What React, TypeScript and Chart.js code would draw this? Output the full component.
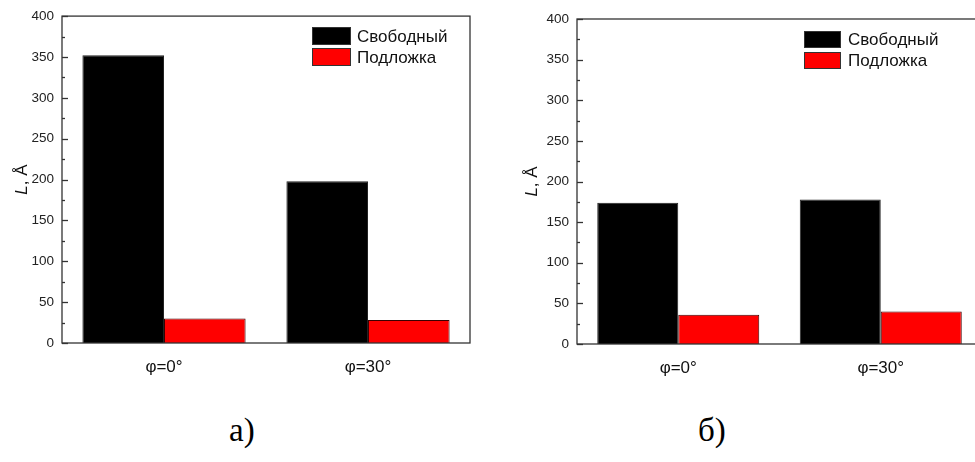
import React, { useEffect, useRef } from "react";
import { Chart, registerables } from "chart.js";

Chart.register(...registerables);

// Categories and series
const categories = ["φ=0°", "φ=30°"];
const seriesNames = ["Свободный", "Подложка"];
const seriesColors = ["#000000", "#ff0000"];

// Panel а)
const freeA = [352, 198];
const substrateA = [30, 28];

// Panel б)
const freeB = [174, 178];
const substrateB = [36, 40];

// Y axis
const yMin = 0;
const yMax = 400;
const yMajorStep = 50;
const yMinorStep = 25;

const SANS = "'Liberation Sans', Arial, sans-serif";

// Box around the plot area plus inward major/minor ticks on the value axis
const framePlugin = {
  id: "frame",
  afterDatasetsDraw(chart: any, _args: any, opts: any) {
    const { ctx, chartArea } = chart;
    const { left, right, top, bottom } = chartArea;
    ctx.save();
    ctx.strokeStyle = opts.color || "#333";
    ctx.lineWidth = opts.lineWidth || 1.3;
    ctx.strokeRect(left, top, right - left, bottom - top);
    const y = chart.scales.y;
    for (let v = yMin; v <= yMax; v += yMinorStep) {
      const py = Math.round(y.getPixelForValue(v)) + 0.5;
      const len = v % yMajorStep === 0 ? 6 : 3;
      ctx.beginPath();
      ctx.moveTo(left, py);
      ctx.lineTo(left + len, py);
      ctx.stroke();
    }
    ctx.restore();
  },
};

// Y axis title "L, Å" with italic L
const axisTitlePlugin = {
  id: "axisTitle",
  afterDraw(chart: any, _args: any, opts: any) {
    const { ctx, chartArea } = chart;
    const cy = (chartArea.top + chartArea.bottom) / 2;
    const size = opts.size || 15;
    ctx.save();
    ctx.translate(opts.x, cy);
    ctx.rotate(-Math.PI / 2);
    ctx.fillStyle = "#111";
    ctx.textBaseline = "middle";
    ctx.textAlign = "left";
    const italic = `italic ${size}px ${SANS}`;
    const normal = `${size}px ${SANS}`;
    ctx.font = italic;
    const wL = ctx.measureText("L").width;
    ctx.font = normal;
    const wRest = ctx.measureText(", Å").width;
    const start = -(wL + wRest) / 2;
    ctx.font = italic;
    ctx.fillText("L", start, 0);
    ctx.font = normal;
    ctx.fillText(", Å", start + wL, 0);
    ctx.restore();
  },
};

// Legend with filled boxes inside the plot
const boxLegendPlugin = {
  id: "boxLegend",
  afterDraw(chart: any, _args: any, opts: any) {
    const { ctx } = chart;
    const { x, y, boxW, boxH, rowGap, textGap, size } = opts;
    ctx.save();
    chart.data.datasets.forEach((ds: any, i: number) => {
      const top = y + i * (boxH + rowGap);
      ctx.fillStyle = ds.backgroundColor;
      ctx.fillRect(x, top, boxW, boxH);
      ctx.strokeStyle = "#333";
      ctx.lineWidth = 1;
      ctx.strokeRect(x + 0.5, top + 0.5, boxW - 1, boxH - 1);
      ctx.fillStyle = "#111";
      ctx.font = `${size}px ${SANS}`;
      ctx.textBaseline = "middle";
      ctx.textAlign = "left";
      ctx.fillText(ds.label, x + boxW + textGap, top + boxH / 2 + 1);
    });
    ctx.restore();
  },
};

type PanelProps = {
  free: number[];
  substrate: number[];
  width: number;
  height: number;
  yWidth: number;
  xHeight: number;
  padTop: number;
  padRight: number;
  titleX: number;
  legend: any;
};

function Panel(p: PanelProps) {
  const ref = useRef<HTMLCanvasElement | null>(null);
  useEffect(() => {
    if (!ref.current) return;
    const chart = new Chart(ref.current, {
      type: "bar",
      data: {
        labels: categories,
        datasets: [
          {
            label: seriesNames[0],
            data: p.free,
            backgroundColor: seriesColors[0],
            borderColor: "#222",
            borderWidth: 1,
            categoryPercentage: 0.8,
            barPercentage: 1.0,
          },
          {
            label: seriesNames[1],
            data: p.substrate,
            backgroundColor: seriesColors[1],
            borderColor: "#3a0000",
            borderWidth: 1,
            categoryPercentage: 0.8,
            barPercentage: 1.0,
          },
        ],
      },
      options: {
        responsive: false,
        animation: false,
        layout: { padding: { top: p.padTop, right: p.padRight, left: 0, bottom: 0 } },
        plugins: {
          legend: { display: false },
          tooltip: { enabled: false },
          frame: { color: "#333", lineWidth: 1.3 },
          axisTitle: { x: p.titleX, size: 17 },
          boxLegend: p.legend,
        } as any,
        scales: {
          x: {
            grid: { display: false, drawTicks: false },
            border: { display: false },
            ticks: {
              color: "#111",
              padding: 14,
              font: { family: SANS, size: 17 },
            },
            afterFit: (s: any) => {
              s.height = p.xHeight;
            },
          },
          y: {
            min: yMin,
            max: yMax,
            grid: { display: false, drawTicks: false },
            border: { display: false },
            ticks: {
              stepSize: yMajorStep,
              color: "#222",
              padding: 8,
              font: { family: SANS, size: 13.5 },
            },
            afterFit: (s: any) => {
              s.width = p.yWidth;
            },
          },
        },
      },
      plugins: [framePlugin, axisTitlePlugin, boxLegendPlugin],
    });
    return () => chart.destroy();
  }, []);
  return (
    <canvas
      ref={ref}
      width={p.width}
      height={p.height}
      style={{ width: p.width, height: p.height, display: "block" }}
    />
  );
}

const captionStyle: React.CSSProperties = {
  position: "absolute",
  fontFamily: "'Liberation Serif', 'Times New Roman', serif",
  fontSize: 33,
  lineHeight: "33px",
  color: "#000",
  whiteSpace: "nowrap",
};

export default function App() {
  return (
    <div
      style={{
        position: "absolute",
        left: 0,
        top: 0,
        width: 975,
        height: 462,
        overflow: "hidden",
        background: "#fff",
      }}
    >
      <div style={{ position: "absolute", left: 0, top: 0 }}>
        <Panel
          free={freeA}
          substrate={substrateA}
          width={480}
          height={400}
          yWidth={62}
          xHeight={57}
          padTop={12.5}
          padRight={10}
          titleX={22}
          legend={{ x: 312, y: 27, boxW: 39, boxH: 18, rowGap: 3, textGap: 6, size: 17 }}
        />
      </div>
      <div style={{ position: "absolute", left: 500, top: 0 }}>
        <Panel
          free={freeB}
          substrate={substrateB}
          width={500}
          height={400}
          yWidth={77}
          xHeight={56}
          padTop={19}
          padRight={18}
          titleX={32}
          legend={{ x: 304, y: 31, boxW: 37, boxH: 17, rowGap: 4, textGap: 7, size: 17 }}
        />
      </div>
      <div style={{ ...captionStyle, left: 229, top: 414 }}>а)</div>
      <div style={{ ...captionStyle, left: 698, top: 414 }}>б)</div>
    </div>
  );
}
